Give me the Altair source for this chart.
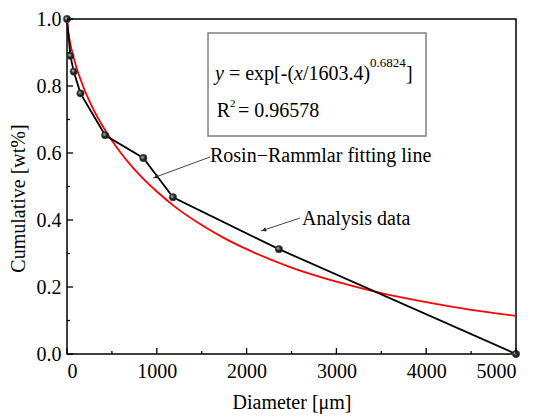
import altair as alt
import pandas as pd

# Analysis data (sieve diameters, cumulative fraction)
diameter = [0, 38, 75, 150, 425, 850, 1180, 2360, 5000]
cumulative = [1.0, 0.89, 0.843, 0.778, 0.653, 0.585, 0.468, 0.313, 0.0]

# Rosin-Rammler fitted curve
fit_x = [0, 5, 10, 25, 50, 75, 100, 150, 200, 250, 300, 400, 500, 600, 700, 800,
         1000, 1200, 1500, 1750, 2000, 2500, 3000, 3500, 4000, 4500, 5000]
fit_y = [1.0, 0.981, 0.969, 0.943, 0.910, 0.884, 0.860, 0.820, 0.785, 0.755, 0.727,
         0.679, 0.637, 0.600, 0.567, 0.537, 0.485, 0.440, 0.385, 0.346, 0.313,
         0.258, 0.216, 0.182, 0.155, 0.132, 0.114]

x_major = [0, 1000, 2000, 3000, 4000, 5000]
x_minor = [500, 1500, 2500, 3500, 4500]
y_major = [0.0, 0.2, 0.4, 0.6, 0.8, 1.0]
y_minor = [0.1, 0.3, 0.5, 0.7, 0.9]

W, H = 449, 335
FONT = "Liberation Serif"

data_df = pd.DataFrame({"d": diameter, "c": cumulative})
fit_df = pd.DataFrame({"d": fit_x, "c": fit_y})

xs = alt.Scale(domain=[0, 5000], nice=False)
ys = alt.Scale(domain=[0, 1.0], nice=False)

x_axis = alt.Axis(values=x_major, format="d", ticks=False, domain=False, grid=False,
                  labelPadding=7, title="Diameter [μm]", titlePadding=11)
y_axis = alt.Axis(values=y_major, format=".1f", ticks=False, domain=False, grid=False,
                  labelPadding=6, title="Cumulative [wt%]", titleX=-39, titleY=179)

fit_line = alt.Chart(fit_df).mark_line(color="#ff0000", strokeWidth=1.8, interpolate="monotone").encode(
    x=alt.X("d:Q", scale=xs, axis=x_axis),
    y=alt.Y("c:Q", scale=ys, axis=y_axis),
)

data_line = alt.Chart(data_df).mark_line(color="black", strokeWidth=1.8).encode(
    x=alt.X("d:Q", scale=xs),
    y=alt.Y("c:Q", scale=ys),
)

sphere = alt.Gradient(
    gradient="radial",
    stops=[alt.GradientStop(color="#dddddd", offset=0),
           alt.GradientStop(color="#333333", offset=0.45),
           alt.GradientStop(color="#000000", offset=1)],
    x1=0.35, y1=0.35, r1=0, x2=0.5, y2=0.5, r2=0.55,
)
data_pts = alt.Chart(data_df).mark_point(filled=True, size=55, shape="circle",
                                         fill=sphere, stroke="#555555",
                                         strokeWidth=0.6, opacity=1).encode(
    x=alt.X("d:Q", scale=xs),
    y=alt.Y("c:Q", scale=ys),
)

# inward ticks
xmaj_df = pd.DataFrame({"v": x_major})
xmin_df = pd.DataFrame({"v": x_minor})
ymaj_df = pd.DataFrame({"v": y_major})
ymin_df = pd.DataFrame({"v": y_minor})
tick_style = dict(color="black", strokeWidth=1.3)
xt1 = alt.Chart(xmaj_df).mark_rule(**tick_style).encode(
    x=alt.X("v:Q", scale=xs), y=alt.value(H), y2=alt.value(H - 6))
xt2 = alt.Chart(xmin_df).mark_rule(**tick_style).encode(
    x=alt.X("v:Q", scale=xs), y=alt.value(H), y2=alt.value(H - 3))
yt1 = alt.Chart(ymaj_df).mark_rule(**tick_style).encode(
    y=alt.Y("v:Q", scale=ys), x=alt.value(0), x2=alt.value(6))
yt2 = alt.Chart(ymin_df).mark_rule(**tick_style).encode(
    y=alt.Y("v:Q", scale=ys), x=alt.value(0), x2=alt.value(3))

# equation box
box = alt.Chart(pd.DataFrame({"a": [0]})).mark_rect(
    fill="white", stroke="#808080", strokeWidth=1.5).encode(
    x=alt.value(141), x2=alt.value(359), y=alt.value(14), y2=alt.value(117))


def txt(s, x, y, size=20, italic=False):
    return alt.Chart(pd.DataFrame({"t": [s]})).mark_text(
        align="left", baseline="alphabetic", font=FONT, fontSize=size,
        fontStyle="italic" if italic else "normal", color="black").encode(
        text="t:N", x=alt.value(x), y=alt.value(y))


eq = [
    txt("y", 148, 61, italic=True),
    txt("= exp[-(", 161.9, 61),
    txt("x", 227, 61, italic=True),
    txt("/1603.4)", 235.9, 61),
    txt("0.6824", 303.1, 48, size=13),
    txt("]", 338.9, 61),
    txt("R", 149.7, 98),
    txt("2", 163, 88, size=11),
    txt("= 0.96578", 171, 98),
]

# annotations
lab1 = txt("Rosin\u2212Rammlar fitting line", 143, 143)
lab2 = txt("Analysis data", 235, 206)

arr1 = alt.Chart(pd.DataFrame({"a": [0]})).mark_rule(color="#444444", strokeWidth=1).encode(
    x=alt.value(143), y=alt.value(138), x2=alt.value(86), y2=alt.value(159))
arr2 = alt.Chart(pd.DataFrame({"a": [0]})).mark_rule(color="#444444", strokeWidth=1).encode(
    x=alt.value(233), y=alt.value(199), x2=alt.value(194), y2=alt.value(212))
head1 = alt.Chart(pd.DataFrame({"a": [0]})).mark_point(
    shape="triangle-up", filled=True, size=22, color="#222222", angle=250, opacity=1).encode(
    x=alt.value(89), y=alt.value(158))
head2 = alt.Chart(pd.DataFrame({"a": [0]})).mark_point(
    shape="triangle-up", filled=True, size=22, color="#222222", angle=252, opacity=1).encode(
    x=alt.value(197), y=alt.value(211))

chart = alt.layer(
    fit_line, data_line, data_pts, xt1, xt2, yt1, yt2,
    box, *eq, lab1, lab2, arr1, arr2, head1, head2,
).properties(
    width=W, height=H,
    autosize=alt.AutoSizeParams(type="none"),
    padding={"left": 67, "top": 19, "right": 24, "bottom": 63},
    background="white",
).configure_view(
    stroke="black", strokeWidth=1.5
).configure_axis(
    labelFont=FONT, labelFontSize=20, labelColor="black",
    titleFont=FONT, titleFontSize=20, titleFontWeight="normal", titleColor="black",
)

chart.save("out.html", embed_options={"renderer": "svg", "actions": False})
